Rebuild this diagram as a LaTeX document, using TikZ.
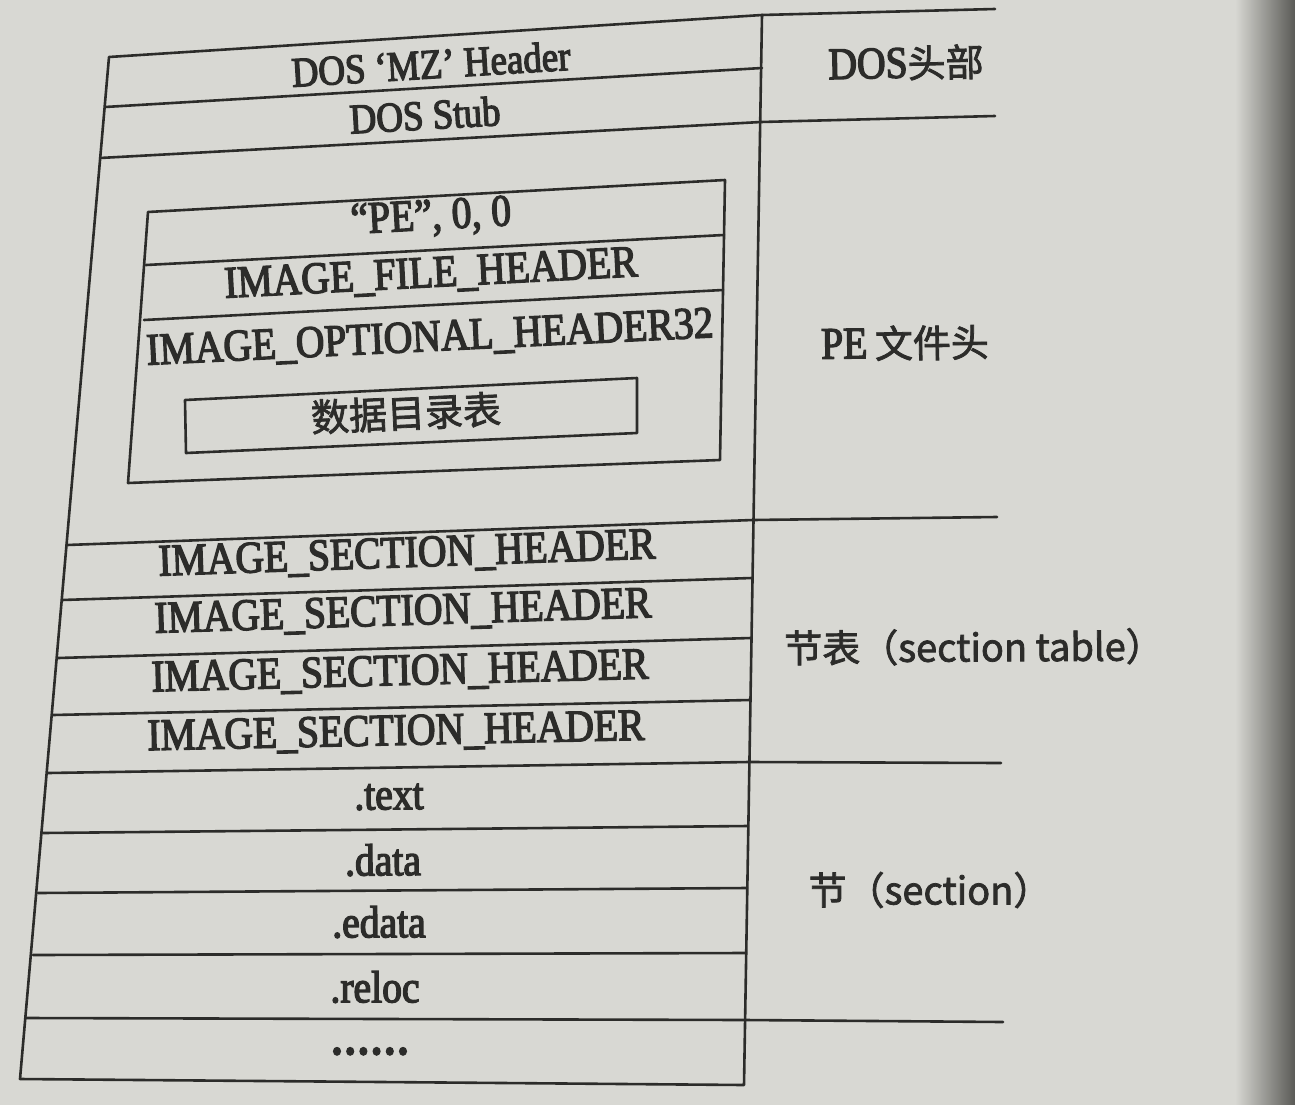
\documentclass[tikz,border=0pt]{standalone}
\usepackage{fontspec}
\setmainfont{Liberation Serif}
\newfontfamily\cond{Liberation Serif}[FakeStretch=0.88,FakeBold=3]
\newfontfamily\cjk{Noto Sans CJK SC}[FakeBold=2]
\definecolor{paper}{HTML}{D8D8D3}
\definecolor{shadow}{HTML}{5A5A56}
\definecolor{ink}{HTML}{2C2C2A}
\begin{document}
\begin{tikzpicture}[x=1pt,y=-1pt,
  rule/.style={draw=ink,line width=2.6pt,line cap=round,line join=round},
  lbl/.style={text=ink,inner sep=0pt,font=\cond\fontsize{45}{50}\selectfont},
  doslbl/.style={lbl,font=\cond\fontsize{42}{46}\selectfont},
  side/.style={text=ink,inner sep=0pt,font=\cjk\fontsize{38}{44}\selectfont},
  cn/.style={text=ink,inner sep=0pt,font=\cjk\fontsize{38}{44}\selectfont}]
% page
\fill[paper] (0,0) rectangle (1295,1105);
\shade[left color=paper,right color=shadow] (1235,0) rectangle (1295,1105);
\useasboundingbox (0,0) rectangle (1295,1105);

% outer frame of the file layout
\draw[rule] (109,57) -- (762,15) -- (744,1085) -- (20,1079) -- cycle;
% DOS part
\draw[rule] (105,107) -- (762,68);
\draw[rule] (100,158) -- (761,122);
% section headers
\draw[rule] (67,545) -- (753,520);
\draw[rule] (62,600) -- (752,578);
\draw[rule] (58,658) -- (751,638);
\draw[rule] (53,715) -- (750,700);
\draw[rule] (48,773) -- (749,762);
% sections
\draw[rule] (43,833) -- (748,826);
\draw[rule] (38,893) -- (747,888);
\draw[rule] (33,955) -- (746,953);
\draw[rule] (26,1018) -- (745,1020);

% group separators on the right
\draw[rule] (762,15) -- (995,9);
\draw[rule] (761,122) -- (995,116);
\draw[rule] (753,520) -- (997,517);
\draw[rule] (749,762) -- (1001,763);
\draw[rule] (745,1020) -- (1003,1022);

% PE header box
\draw[rule] (148,212) -- (725,180) -- (720,460) -- (128,483) -- cycle;
\draw[rule] (146,265) -- (724,235);
\draw[rule] (144,320) -- (723,290);
% data directory box
\draw[rule] (185,400) -- (637,378) -- (637,433) -- (186,453) -- cycle;

% labels
\node[doslbl,rotate=3.5] (mz) at (431,64) {DOS ‘MZ’ Header};
\node[doslbl,rotate=3.2] (stub) at (425,115) {DOS Stub};
\node[lbl,rotate=3.1] (sig) at (431,218) {“PE”, 0, 0};
\node[lbl,rotate=3.0] (ifh) at (431,275) {IMAGE\_FILE\_HEADER};
\node[lbl,rotate=2.8] (ioh) at (430,339) {IMAGE\_OPTIONAL\_HEADER32};
\node[cn,rotate=2.6] (dd) at (406,413) {数据目录表};
\node[lbl,rotate=2.0] (sh1) at (407,555) {IMAGE\_SECTION\_HEADER};
\node[lbl,rotate=1.8] (sh2) at (403,613) {IMAGE\_SECTION\_HEADER};
\node[lbl,rotate=1.5] (sh3) at (400,673) {IMAGE\_SECTION\_HEADER};
\node[lbl,rotate=1.2] (sh4) at (396,733) {IMAGE\_SECTION\_HEADER};
\node[lbl,rotate=0.6] (text) at (389,797) {.text};
\node[lbl,rotate=0.4] (data) at (383,860) {.data};
\node[lbl,rotate=0.2] (edata) at (379,922) {.edata};
\node[lbl] (reloc) at (375,987) {.reloc};
\node[lbl,font=\cond\fontsize{60}{60}\selectfont,anchor=base] (more) at (370,1054) {......};

\node[lbl,rotate=1.2] (doshdr) at (906,63) {DOS{\cjk\fontsize{38}{44}\selectfont 头部}};
\node[lbl,rotate=0.8] (pehdr) at (905,343) {PE\,{\cjk\fontsize{38}{44}\selectfont 文件头}};
\node[side,rotate=0.3] (sectab) at (974,647) {节表（section table）};
\node[side] (sect) at (930,890) {节（section）};
\end{tikzpicture}
\end{document}
